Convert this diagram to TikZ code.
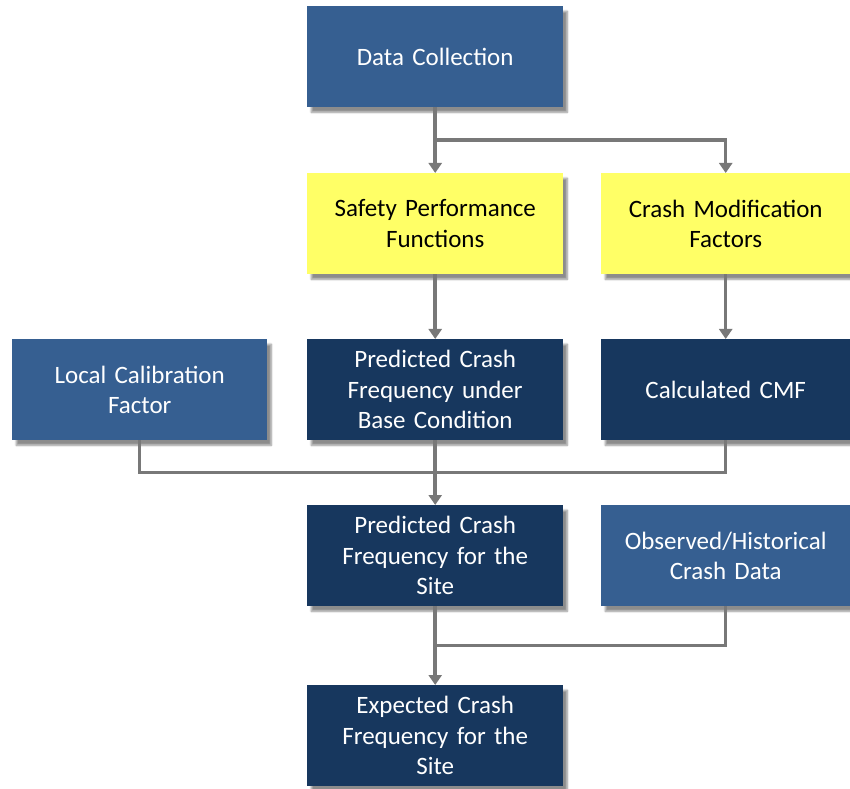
\documentclass[tikz,border=0pt]{standalone}
\usepackage{fontspec}
\setmainfont{Carlito}
\usetikzlibrary{arrows.meta,calc,shadows.blur}

\definecolor{midblue}{HTML}{365F91}
\definecolor{darkblue}{HTML}{17375E}
\definecolor{paleyellow}{HTML}{FFFF66}
\definecolor{linkgray}{HTML}{787878}

\tikzset{
  box/.style={anchor=north west, minimum width=256pt, minimum height=101pt,
    text width=244pt, align=center, inner sep=0pt,
    font=\fontsize{25}{30.5}\selectfont,
    blur shadow={shadow xshift=4pt, shadow yshift=-5pt, shadow blur steps=8,
      shadow opacity=45}},
  midbox/.style={box, fill=midblue, text=white},
  darkbox/.style={box, fill=darkblue, text=white},
  yellowbox/.style={box, fill=paleyellow, text=black},
  narrow/.style={minimum width=249pt},
  link/.style={draw=linkgray, line width=3.5pt},
  arrow/.style={link, -{Triangle[width=13pt,length=10pt]}},
}

\begin{document}
\begin{tikzpicture}[x=1pt,y=1pt]
  \useasboundingbox (0,0) rectangle (850,788);

  % boxes (top-left corners, y measured from the top edge)
  \node[midbox]            (dc)    at (307,782) {Data Collection};
  \node[yellowbox]         (spf)   at (307,615) {Safety Performance\\Functions};
  \node[yellowbox,narrow]  (cmf)   at (601,615) {Crash Modification\\Factors};
  \node[midbox,minimum width=255pt] (lcf) at (12,449) {Local Calibration\\Factor};
  \node[darkbox]           (pbase) at (307,449) {Predicted Crash\\Frequency under\\Base Condition};
  \node[darkbox,narrow]    (ccmf)  at (601,449) {Calculated CMF};
  \node[darkbox]           (psite) at (307,283) {Predicted Crash\\Frequency for the\\Site};
  \node[midbox,narrow]     (obs)   at (601,283) {Observed/Historical\\Crash Data};
  \node[darkbox]           (ecf)   at (307,103) {Expected Crash\\Frequency for the\\Site};

  % junction points on the main column
  \coordinate (j1) at ($(dc.south)!0.5!(spf.north)$);
  \coordinate (j2) at ($(pbase.south)!0.5!(psite.north)$);
  \coordinate (j3) at ($(psite.south)!0.5!(ecf.north)$);

  % connectors
  \draw[arrow] (dc.south) -- (spf.north);
  \draw[arrow] (j1) -| (cmf.north);
  \draw[arrow] (spf.south) -- (pbase.north);
  \draw[arrow] (cmf.south) -- (ccmf.north);
  \draw[link]  (lcf.south) |- (ccmf.south |- j2) -- (ccmf.south);
  \draw[arrow] (pbase.south) -- (psite.north);
  \draw[link]  (obs.south) |- (j3);
  \draw[arrow] (psite.south) -- (ecf.north);
\end{tikzpicture}
\end{document}
